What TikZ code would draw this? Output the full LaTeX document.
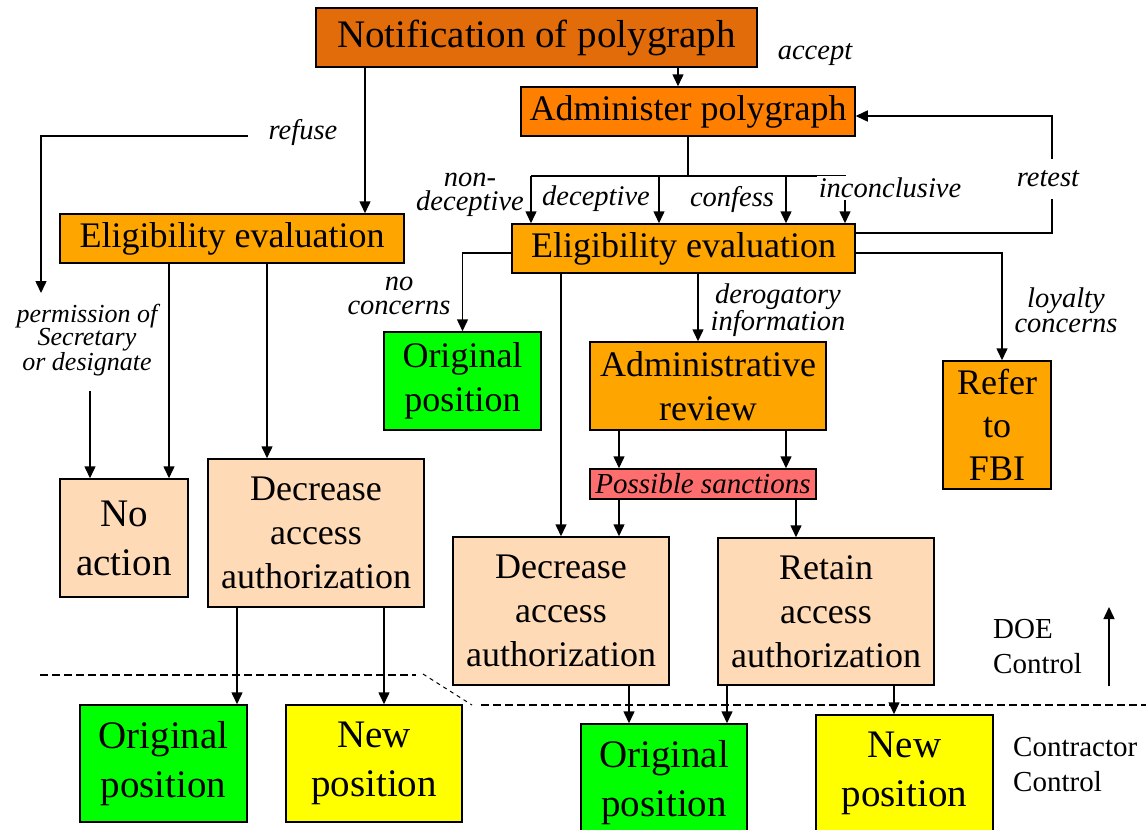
\documentclass[tikz,border=0pt]{standalone}
\usepackage{fontspec}
\setmainfont{Liberation Serif}
\usetikzlibrary{arrows.meta,calc}
\definecolor{notifOrange}{RGB}{226,108,10}
\definecolor{adminOrange}{RGB}{255,127,0}
\definecolor{evalOrange}{RGB}{255,165,0}
\definecolor{peach}{RGB}{255,218,183}
\definecolor{posGreen}{RGB}{0,255,0}
\definecolor{posYellow}{RGB}{255,255,0}
\definecolor{sanctRed}{RGB}{255,110,110}

\begin{document}
\begin{tikzpicture}[
    x=1pt, y=-1pt,
    font=\fontsize{36}{44}\selectfont,
    box/.style={
        rectangle,
        draw=black,
        line width=1.5pt,
        align=center,
        inner sep=0pt
    },
    outcome/.style={
        box,
        font=\fontsize{39}{49}\selectfont
    },
    lbl/.style={
        font=\fontsize{28.5}{24.5}\selectfont\itshape,
        align=center,
        inner sep=2pt
    },
    note/.style={
        font=\fontsize{29}{35}\selectfont,
        align=left,
        inner sep=0pt,
        anchor=west
    },
    arrow/.style={
        -{Triangle[length=12pt,width=11pt]},
        line width=1.5pt
    },
    link/.style={line width=1.5pt},
    divider/.style={
        dash pattern=on 8pt off 4pt,
        line width=1.3pt
    }
]
\useasboundingbox (0,0) rectangle (1146,830);

% TOP
\node[box, fill=notifOrange, minimum width=441pt, minimum height=59pt,
      font=\fontsize{39}{49}\selectfont] (notif) at (536.5,37.5)
{Notification of polygraph};

\node[box, fill=adminOrange, minimum width=334pt, minimum height=49pt] (admin) at (688,111.5)
{Administer polygraph};

% EVALUATIONS
\node[box, fill=evalOrange, minimum width=344pt, minimum height=49pt] (elig1) at (232,238.5)
{Eligibility evaluation};

\node[box, fill=evalOrange, minimum width=343pt, minimum height=49pt] (elig2) at (683.5,248.5)
{Eligibility evaluation};

% MIDDLE ROW
\node[box, fill=posGreen, minimum width=157pt, minimum height=98pt] (orig1) at (462.5,381)
{Original\\position};

\node[box, fill=evalOrange, minimum width=236pt, minimum height=88pt] (review) at (708,386)
{Administrative\\review};

\node[box, fill=evalOrange, minimum width=108pt, minimum height=128pt,
      font=\fontsize{36}{43}\selectfont] (fbi) at (997,425)
{Refer\\to\\FBI};

\node[box, fill=sanctRed, minimum width=226pt, minimum height=30pt,
      font=\fontsize{29}{30}\selectfont\itshape] (sanct) at (703,484)
{Possible sanctions};

\node[outcome, fill=peach, minimum width=128pt, minimum height=118pt] (noact) at (124,538)
{No\\action};

\node[box, fill=peach, minimum width=216pt, minimum height=148pt] (decr1) at (316,533)
{Decrease\\access\\authorization};

\node[box, fill=peach, minimum width=216pt, minimum height=148pt] (decr2) at (561,611)
{Decrease\\access\\authorization};

\node[box, fill=peach, minimum width=216pt, minimum height=147pt] (retain) at (826,611.5)
{Retain\\access\\authorization};

% CONTROL LINE
\draw[divider] (40,675) -- (416,675);
\draw[divider, dash pattern=on 4pt off 4pt, line width=1pt] (423,674) -- (472,705);
\draw[divider] (481,705) -- (1146,705);

% BOTTOM ROW
\node[outcome, fill=posGreen, minimum width=167pt, minimum height=117pt] (orig2) at (163.5,763.5)
{Original\\position};

\node[outcome, fill=posYellow, minimum width=176pt, minimum height=117pt] (new1) at (374,763.5)
{New\\position};

\node[outcome, fill=posGreen, minimum width=166pt, minimum height=117pt] (orig3) at (664,782.5)
{Original\\position};

\node[outcome, fill=posYellow, minimum width=177pt, minimum height=117pt] (new3) at (904.5,773.5)
{New\\position};

% ARROWS
\draw[arrow] ([xshift=141.5pt]notif.south) -- ([xshift=-10pt]admin.north);
\draw[arrow] ([xshift=-171.5pt]notif.south) -- ([xshift=-171.5pt]notif.south |- elig1.north);

\coordinate (fork) at ([yshift=-39pt]admin.south);
\draw[link] (admin.south) -- (fork);
\draw[link] (fork -| 531,0) -- (fork -| 846,0);
\foreach \bx in {531,659,786,845}
    \draw[arrow] (fork -| \bx,0) -- (elig2.north -| \bx,0);

\draw[arrow] ([yshift=15.5pt]elig2.east) -- ++(196pt,0) |- ([yshift=-4.5pt]admin.east);

\draw[arrow] ([xshift=-63pt]elig1.south) -- ([xshift=-63pt]elig1.south |- noact.north);
\draw[arrow] ([xshift=35pt]elig1.south) -- ([xshift=35pt]elig1.south |- decr1.north);

\draw[arrow] ([yshift=-4.5pt]elig2.west) -| (orig1.north);
\draw[arrow] (elig2.south -| decr2.north) -- (decr2.north);
\draw[arrow] ([xshift=14.5pt]elig2.south) -- ([xshift=14.5pt]elig2.south |- review.north);
\draw[arrow] ([yshift=-4.5pt]elig2.east) -| ([xshift=5pt]fbi.north);

\draw[arrow] ([xshift=-89pt]review.south) -- ([xshift=-89pt]review.south |- sanct.north);
\draw[arrow] ([xshift=78pt]review.south) -- ([xshift=78pt]review.south |- sanct.north);
\draw[arrow] ([xshift=-84pt]sanct.south) -- ([xshift=-84pt]sanct.south |- decr2.north);
\draw[arrow] ([xshift=93pt]sanct.south) -- ([xshift=93pt]sanct.south |- retain.north);

\draw[arrow] ([xshift=-79pt]decr1.south) -- ([xshift=-79pt]decr1.south |- orig2.north);
\draw[arrow] ([xshift=68pt]decr1.south) -- ([xshift=68pt]decr1.south |- new1.north);
\draw[arrow] ([xshift=68pt]decr2.south) -- ([xshift=68pt]decr2.south |- orig3.north);
\draw[arrow] ([xshift=-99pt]retain.south) -- ([xshift=-99pt]retain.south |- orig3.north);
\draw[arrow] ([xshift=68pt]retain.south) -- ([xshift=68pt]retain.south |- new3.north);

% LABELS
\node[lbl] (accept) at (815,55) {accept};
\node[lbl] (refuse) at (303,132) {refuse};
\coordinate (permtop) at (41,293);
\draw[arrow] ([xshift=-19pt,yshift=-4pt]refuse.west) -| (permtop);

\node[lbl, font=\fontsize{26}{22.5}\selectfont\itshape] (permit) at (87,340)
{permission of\\Secretary\\or designate};
\coordinate (permout) at (90,391);
\draw[arrow] (permout) -- (permout |- noact.north);

\node[lbl] (nondec) at (470,195) {non-\\deceptive};
\node[lbl] (decept) at (596,199) {deceptive};
\node[lbl] (confess) at (732,199) {confess};
\node[lbl, fill=white] (inconcl) at (890,188) {inconclusive};
\node[lbl, fill=white, inner xsep=3pt, inner ysep=12pt] (retest) at (1048,179) {retest};
\node[lbl] (noconc) at (399,296) {no\\concerns};
\node[lbl] (derog) at (778,310) {derogatory\\information};
\node[lbl] (loyal) at (1066,310) {loyalty\\concerns};

% CONTROL NOTES
\node[note] (doe) at (993,647) {DOE\\Control};
\node[note] (contr) at (1013,764.5) {Contractor\\Control};
\coordinate (upfoot) at (1109,686);
\coordinate (uphead) at (1109,607);
\draw[arrow] (upfoot) -- (uphead);

\end{tikzpicture}
\end{document}
